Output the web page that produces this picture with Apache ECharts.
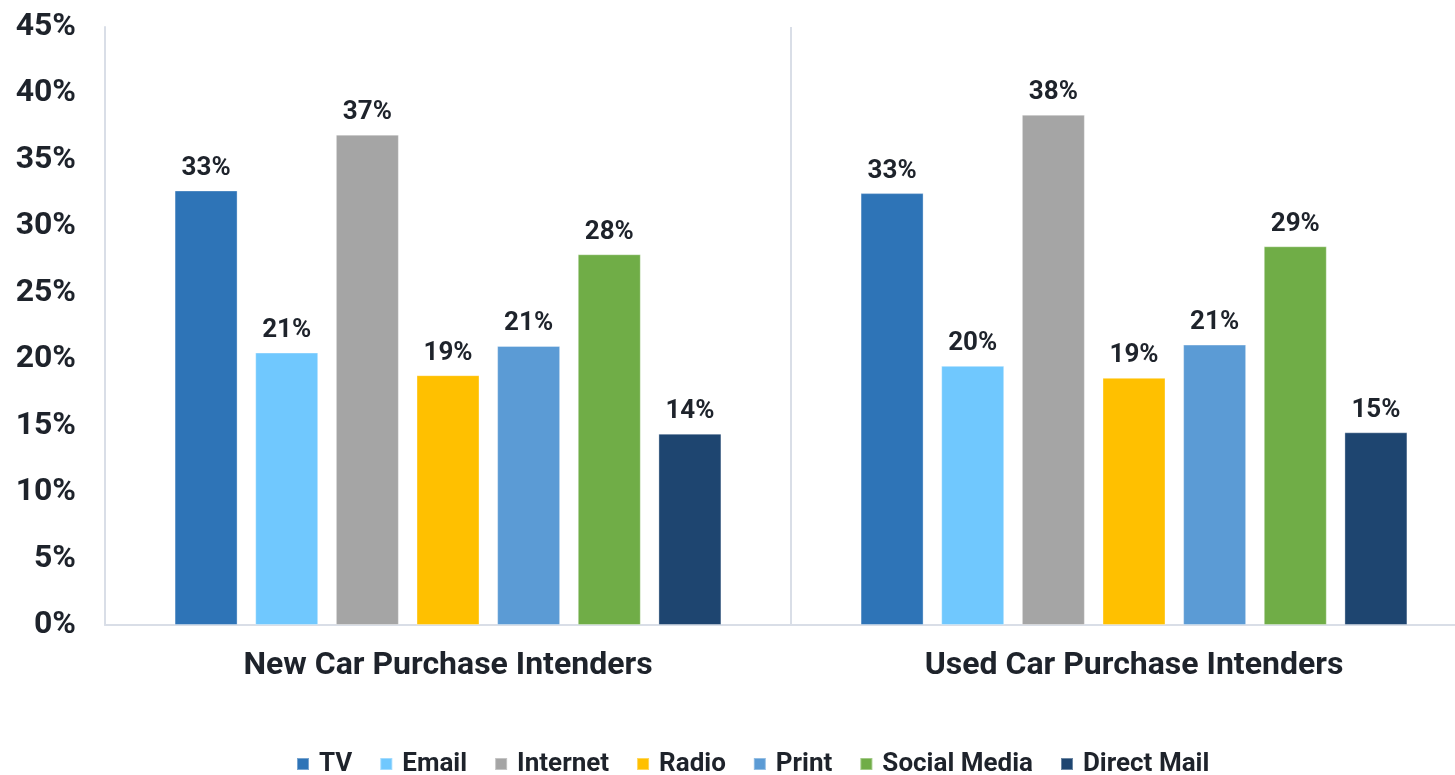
<!DOCTYPE html>
<html>
<head>
<meta charset="utf-8">
<title>Media channels by purchase intent</title>
<script src="https://cdn.jsdelivr.net/npm/echarts@6/dist/echarts.min.js"></script>
<style>
  html, body { margin: 0; padding: 0; background: #ffffff; }
  #chart { width: 1455px; height: 775px; }
</style>
</head>
<body>
<div id="chart"></div>
<script>
// Audience groups along the x axis
const categories = ['New Car Purchase Intenders', 'Used Car Purchase Intenders'];

// Share of each group reached by a channel (%)
const tv          = [32.7, 32.5];
const email       = [20.5, 19.5];
const internet    = [36.9, 38.4];
const radio       = [18.8, 18.6];
const print       = [21.0, 21.1];
const socialMedia = [27.9, 28.5];
const directMail  = [14.4, 14.5];

const channelNames = ['TV', 'Email', 'Internet', 'Radio', 'Print', 'Social Media', 'Direct Mail'];
const channelData  = [tv, email, internet, radio, print, socialMedia, directMail];
const channelColors = ['#2E74B7', '#70C8FE', '#A5A5A5', '#FFC000', '#5B9BD5', '#70AD47', '#1E4570'];

// Value axis ticks
const yMin = 0, yMax = 45, yStep = 5;

const FONT = 'Roboto, "Noto Sans", sans-serif';
const TEXT = '#1E232B';
const LINE = '#D9DEE7';

const chart = echarts.init(document.getElementById('chart'), null, { renderer: 'canvas' });

const series = channelNames.map((name, i) => ({
  name: name,
  type: 'bar',
  data: channelData[i],
  barWidth: 63,
  barGap: '28%',
  itemStyle: {
    color: channelColors[i],
    borderColor: 'rgba(255,255,255,0.35)',
    borderWidth: 1
  },
  label: {
    show: true,
    position: 'top',
    distance: 9,
    formatter: p => Math.round(p.value) + '%',
    fontFamily: FONT,
    fontWeight: 'bold',
    fontSize: 26,
    color: TEXT
  }
}));

// The plot runs past the right edge of the canvas, so its width is set directly
// and the grid is not squeezed back inside the container.
chart.setOption({
  animation: false,
  backgroundColor: '#ffffff',
  grid: {
    left: 105, width: 1372, top: 27, bottom: 150,
    containLabel: false,
    outerBoundsMode: 'none'
  },
  legend: {
    data: channelNames,
    left: 291,
    top: 746,
    icon: 'rect',
    itemWidth: 12,
    itemHeight: 12,
    itemGap: 27,
    textStyle: {
      fontFamily: FONT,
      fontWeight: 'bold',
      fontSize: 26,
      color: TEXT,
      padding: [0, 0, 0, 5]
    }
  },
  xAxis: {
    type: 'category',
    data: categories,
    axisLine: { show: true, lineStyle: { color: LINE, width: 2 } },
    axisTick: { show: false },
    splitLine: { show: true, lineStyle: { color: LINE, width: 2 } },
    axisLabel: {
      margin: 25,
      fontFamily: FONT,
      fontWeight: 'bold',
      fontSize: 32,
      color: TEXT
    }
  },
  yAxis: {
    type: 'value',
    min: yMin,
    max: yMax,
    interval: yStep,
    axisLine: { show: true, lineStyle: { color: LINE, width: 2 } },
    axisTick: { show: false },
    splitLine: { show: false },
    axisLabel: {
      margin: 29,
      formatter: v => v + '%',
      fontFamily: FONT,
      fontWeight: 'bold',
      fontSize: 32,
      color: TEXT
    }
  },
  series: series
});
</script>
</body>
</html>
